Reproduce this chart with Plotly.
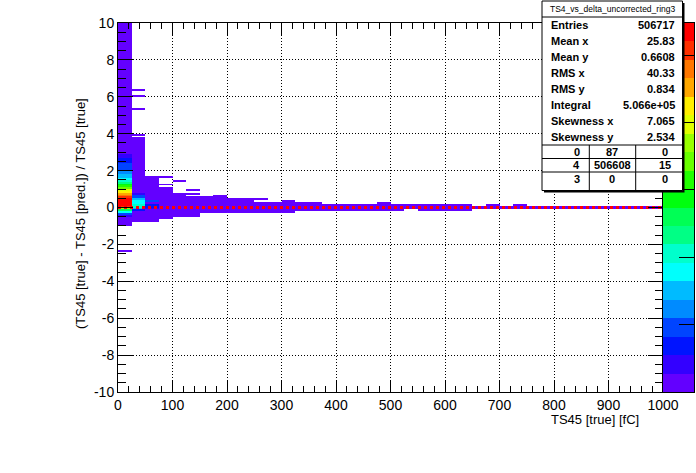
import colorsys

import numpy as np
import plotly.graph_objects as go

# histogram binning: TS45 [true] in fC along x, relative residual along y
X_EDGES = np.arange(0, 1001, 25)
Y_EDGES = np.round(np.arange(-10, 10.001, 0.1), 2)
Z_MAX = 27400
N_CONTOURS = 20
REF_Y = 0.0

# axis labels as ROOT prints them (plain hyphen for negatives)
Y_TICKS = [-10, -8, -6, -4, -2, 0, 2, 4, 6, 8, 10]
Y_TICK_TEXT = ["-10", "-8", "-6", "-4", "-2", "0", "2", "4", "6", "8", "10"]

# filled regions of each x bin as (y_low, y_high, entries); later rows overwrite earlier ones
COL_0 = [
    (-1.0, 10.0, 300), (-2.4, -2.3, 1),
    (2.7, 2.9, 2000), (2.4, 2.7, 3500), (2.0, 2.4, 4800), (1.8, 2.0, 6200),
    (1.6, 1.8, 7500), (1.5, 1.6, 8900), (1.4, 1.5, 10300), (1.3, 1.4, 11700),
    (1.2, 1.3, 14400), (1.1, 1.2, 15700), (1.0, 1.1, 17100), (0.9, 1.0, 19900),
    (0.8, 0.9, 21200), (0.7, 0.8, 22600), (0.6, 0.7, 24000), (0.5, 0.6, 25300),
    (0.1, 0.5, 26700), (0.0, 0.1, 25300), (-0.1, 0.0, 18500), (-0.2, -0.1, 13000),
    (-0.3, -0.2, 8900), (-0.4, -0.3, 4800), (-0.5, -0.4, 2000),
]
COL_1 = [
    (-0.8, 3.8, 200), (3.9, 4.0, 1), (5.3, 5.4, 1), (6.0, 6.1, 1), (6.3, 6.4, 1),
    (0.7, 0.8, 2000), (0.5, 0.7, 4800), (0.4, 0.5, 7500), (0.2, 0.4, 8900),
    (0.0, 0.2, 10300), (-0.1, 0.0, 7500), (-0.2, -0.1, 3500),
]
COL_2 = [(-0.8, 1.7, 100), (0.25, 0.4, 4800), (0.0, 0.25, 3500), (-0.1, 0.0, 2000)]
COL_3 = [(-0.6, 1.1, 60), (1.2, 1.3, 2), (1.6, 1.7, 2)]
COL_4 = [(-0.5, 0.8, 40), (1.4, 1.5, 2)]
COL_5 = [(-0.5, 0.6, 30), (0.7, 0.8, 2), (0.9, 1.0, 1)]
COL_6 = [(-0.3, 0.6, 25)]
COL_7 = [(-0.3, 0.7, 20)]
COL_8 = [(-0.3, 0.5, 15)]
COL_9 = [(-0.3, 0.5, 12)]
COL_10 = [(-0.3, 0.3, 10), (0.4, 0.5, 1)]
COL_11 = [(-0.3, 0.3, 10)]
COL_12 = [(-0.3, 0.4, 8)]
# x bins from 325 fC up to 1000 fC
TAIL_LOW = [-0.2, -0.2, -0.2, -0.2, -0.2, -0.2, -0.2, -0.2, -0.1, -0.2, -0.2, -0.2, -0.2, -0.1,
            -0.1, -0.1, -0.1, -0.1, -0.1, -0.1, -0.1, -0.1, -0.1, -0.1, -0.1, -0.1, -0.1]
TAIL_HIGH = [0.3, 0.3, 0.2, 0.2, 0.2, 0.2, 0.3, 0.2, 0.2, 0.2, 0.2, 0.2, 0.2, 0.1,
             0.2, 0.1, 0.2, 0.1, 0.1, 0.1, 0.1, 0.1, 0.1, 0.1, 0.1, 0.1, 0.1]
TAIL_N = [8, 7, 6, 6, 6, 6, 5, 5, 4, 4, 4, 4, 4, 3, 3, 2, 2, 2, 2, 2, 2, 2, 2, 2, 2, 2, 2]

COLUMNS = [COL_0, COL_1, COL_2, COL_3, COL_4, COL_5, COL_6, COL_7, COL_8, COL_9,
           COL_10, COL_11, COL_12]
COLUMNS += [[(lo, hi, n)] for lo, hi, n in zip(TAIL_LOW, TAIL_HIGH, TAIL_N)]

STATS_TITLE = "TS4_vs_delta_uncorrected_ring3"
STATS_LABELS = ["Entries", "Mean x", "Mean y", "RMS x", "RMS y", "Integral", "Skewness x", "Skewness y"]
STATS_VALUES = ["506717", "25.83", "0.6608", "40.33", "0.834", "5.066e+05", "7.065", "2.534"]
OVERFLOW_TABLE = [["0", "87", "0"], ["4", "506608", "15"], ["3", "0", "0"]]

X_TITLE = "TS45 [true] [fC]"
Y_TITLE = "(TS45 [true] - TS45 [pred.]) / TS45 [true]"

FONT = "Liberation Sans, Arial, Helvetica, sans-serif"


def root_color(k):
    # ROOT "pretty" palette (violet -> red), sampled the way COLZ does for 20 contours
    j = int((k + 0.99) * 50 / N_CONTOURS)
    hue = 0 if j >= 49 else 280 - (j + 1) * 5.6
    r, g, b = colorsys.hls_to_rgb(hue / 360.0, 0.5, 1.0)
    return "rgb(%d,%d,%d)" % (round(r * 255), round(g * 255), round(b * 255))


colorscale = []
for k in range(N_CONTOURS):
    c = root_color(k)
    colorscale += [[k / N_CONTOURS, c], [(k + 1) / N_CONTOURS, c]]

xc = (X_EDGES[:-1] + X_EDGES[1:]) / 2
yc = (Y_EDGES[:-1] + Y_EDGES[1:]) / 2
z = np.full((len(yc), len(xc)), np.nan)
for i, segs in enumerate(COLUMNS):
    for lo, hi, n in segs:
        z[(yc > lo) & (yc < hi), i] = n
z_list = [[None if np.isnan(v) else float(v) for v in row] for row in z]

# palette key values (one per contour band)
key_y = [(k + 0.5) * Z_MAX / N_CONTOURS for k in range(N_CONTOURS)]

# pixel geometry of the pad
W, H = 696, 473
L, R_EDGE, T, B = 118, 694, 23, 392
FRAME_R = 663
PW, PH = R_EDGE - L, B - T


def px(x):
    return (x - L) / PW


def py(y):
    return (B - y) / PH


fig = go.Figure()
fig.add_trace(go.Heatmap(
    x=xc, y=yc, z=z_list, zmin=0, zmax=Z_MAX, colorscale=colorscale,
    showscale=False, hoverongaps=False, xaxis="x", yaxis="y",
))
fig.add_trace(go.Scatter(
    x=[X_EDGES[0], X_EDGES[-1]], y=[REF_Y, REF_Y], mode="lines",
    line=dict(color="#ff0000", width=3, dash="3px,3px"), hoverinfo="skip",
))
fig.add_trace(go.Heatmap(
    x=[0], y=key_y, z=[[v] for v in key_y], zmin=0, zmax=Z_MAX,
    colorscale=colorscale, showscale=False, xaxis="x2", yaxis="y2", hoverinfo="skip",
))

axis_common = dict(
    showline=True, linecolor="black", linewidth=1, mirror="allticks",
    ticks="inside", tickcolor="black", tickwidth=1, automargin=False,
    showgrid=True, gridcolor="black", gridwidth=1, griddash="1px,2px",
    zeroline=False, tickfont=dict(family=FONT, size=14, color="black"),
)

shapes = [
    dict(type="rect", xref="paper", yref="paper", x0=px(544), x1=px(684.5), y0=py(192.5), y1=py(3),
         fillcolor="black", line=dict(width=0), layer="above"),
    dict(type="rect", xref="paper", yref="paper", x0=px(542), x1=px(682.5), y0=py(190.5), y1=py(1),
         fillcolor="white", line=dict(color="black", width=1), layer="above"),
    dict(type="line", xref="paper", yref="paper", x0=px(542), x1=px(682.5), y0=py(17), y1=py(17),
         line=dict(color="black", width=1), layer="above"),
]
for yline in [145, 158.5, 172]:
    shapes.append(dict(type="line", xref="paper", yref="paper", x0=px(542), x1=px(682.5),
                       y0=py(yline), y1=py(yline), line=dict(color="black", width=1), layer="above"))
for xline in [589.3, 635.7]:
    shapes.append(dict(type="line", xref="paper", yref="paper", x0=px(xline), x1=px(xline),
                       y0=py(145), y1=py(190.5), line=dict(color="black", width=1), layer="above"))

annotations = [
    dict(text=STATS_TITLE, x=px(612), y=py(9), xref="paper", yref="paper", showarrow=False,
         xanchor="center", yanchor="middle", font=dict(family=FONT, size=8.5, color="black")),
]
bold = dict(family=FONT, size=11, color="black", weight="bold")
for r, (lab, val) in enumerate(zip(STATS_LABELS, STATS_VALUES)):
    yy = py(25 + 16 * r)
    annotations.append(dict(text=lab, x=px(549), y=yy, xref="paper", yref="paper", showarrow=False,
                            xanchor="left", yanchor="middle", font=bold))
    annotations.append(dict(text=val, x=px(677), y=yy, xref="paper", yref="paper", showarrow=False,
                            xanchor="right", yanchor="middle", font=bold))
for r, row in enumerate(OVERFLOW_TABLE):
    for c, cell in enumerate(row):
        annotations.append(dict(text=cell, x=px([576.7, 612.3, 664.5][c]), y=py([151.8, 165.3, 179][r]),
                                xref="paper", yref="paper", showarrow=False,
                                xanchor="center", yanchor="middle", font=bold))
annotations.append(dict(text=X_TITLE, x=px(641), y=py(419), xref="paper", yref="paper", showarrow=False,
                        xanchor="right", yanchor="middle", font=dict(family=FONT, size=13, color="black")))
annotations.append(dict(text=Y_TITLE, x=px(80), y=py(214), xref="paper", yref="paper", showarrow=False,
                        textangle=-90, xanchor="center", yanchor="middle",
                        font=dict(family=FONT, size=13, color="black")))

fig.update_layout(
    width=W, height=H, autosize=False,
    margin=dict(l=L, r=W - R_EDGE, t=T, b=H - B, pad=0, autoexpand=False),
    paper_bgcolor="white", plot_bgcolor="white",
    showlegend=False,
    xaxis=dict(axis_common, range=[X_EDGES[0], X_EDGES[-1]], domain=[0, px(FRAME_R)], anchor="y",
               tick0=0, dtick=100, ticklen=12,
               minor=dict(dtick=20, ticks="inside", ticklen=6, tickcolor="black", showgrid=False)),
    yaxis=dict(axis_common, range=[Y_EDGES[0], Y_EDGES[-1]], domain=[0, 1], anchor="x",
               tickmode="array", tickvals=Y_TICKS, ticktext=Y_TICK_TEXT, ticklen=15,
               minor=dict(dtick=0.5, tick0=0, ticks="inside", ticklen=8, tickcolor="black",
                          showgrid=False)),
    xaxis2=dict(domain=[px(FRAME_R), 1], anchor="y2", range=[-0.5, 0.5], showline=True,
                linecolor="black", linewidth=1, mirror=True, ticks="", showticklabels=False,
                showgrid=False, zeroline=False, automargin=False),
    yaxis2=dict(domain=[0, 1], anchor="x2", side="right", range=[0, Z_MAX], showline=True,
                linecolor="black", linewidth=1, mirror=True, ticks="inside", ticklen=15,
                tickcolor="black", dtick=5000, showticklabels=False, showgrid=False, zeroline=False,
                automargin=False),
    shapes=shapes,
    annotations=annotations,
)

# the page's default body margin would push the 696x473 figure off the window
fig.write_html("out.html", config={"displayModeBar": False},
               post_script="document.body.style.margin = '0px';")
